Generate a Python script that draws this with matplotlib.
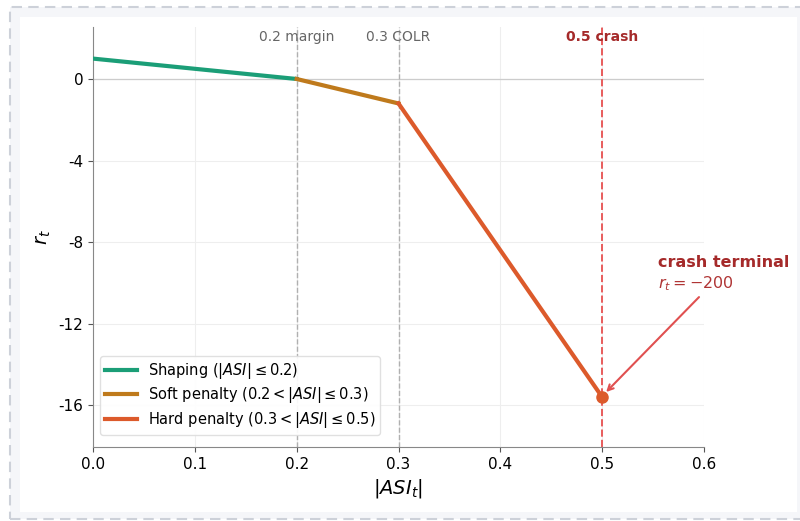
import matplotlib
matplotlib.use("Agg")
import matplotlib.pyplot as plt
from matplotlib.patches import Rectangle

# Data
shaping_x = [0.0, 0.2]
shaping_y = [1.0, 0.0]
soft_x = [0.2, 0.3]
soft_y = [0.0, -1.2]
hard_x = [0.3, 0.5]
hard_y = [-1.2, -15.6]
thresholds = [0.2, 0.3, 0.5]
threshold_labels = ["0.2 margin", "0.3 COLR", "0.5 crash"]
yticks = [0, -4, -8, -12, -16]
xticks = [0.0, 0.1, 0.2, 0.3, 0.4, 0.5, 0.6]

W, H = 800, 521
fig = plt.figure(figsize=(8, 5.21), dpi=100, facecolor="white")

# page decoration
fig.patches.append(Rectangle((10 / W, 1 - 519 / H), 800 / W, (519 - 7) / H,
                             transform=fig.transFigure, facecolor="#f5f6f9",
                             edgecolor="#cdd1d9", linestyle=(0, (5, 3)), linewidth=1.5, zorder=-10))
fig.patches.append(Rectangle((20 / W, 1 - 512 / H), (797 - 20) / W, (512 - 17) / H,
                             transform=fig.transFigure, facecolor="white",
                             edgecolor="none", zorder=-9))

ax = fig.add_axes([93 / W, 1 - 447 / H, (704 - 93) / W, (447 - 27) / H])
ax.set_facecolor("white")

ax.grid(True, color="#eeeeee", linewidth=0.8)
ax.set_axisbelow(True)
ax.axhline(0, color="#cccccc", linewidth=0.9, zorder=1)

c_shape = "#1b9e77"
c_soft = "#bf7a1c"
c_hard = "#dc5a2b"

ax.plot(shaping_x, shaping_y, color=c_shape, linewidth=3, label=r"Shaping ($|ASI| \leq 0.2$)", zorder=3)
ax.plot(soft_x, soft_y, color=c_soft, linewidth=3, label=r"Soft penalty ($0.2 < |ASI| \leq 0.3$)", zorder=3)
ax.plot(hard_x, hard_y, color=c_hard, linewidth=3, label=r"Hard penalty ($0.3 < |ASI| \leq 0.5$)", zorder=3)
ax.plot([hard_x[-1]], [hard_y[-1]], "o", color=c_hard, markersize=8, zorder=4)

ax.axvline(thresholds[0], color="#b0b0b0", linestyle="--", linewidth=1, zorder=2)
ax.axvline(thresholds[1], color="#b0b0b0", linestyle="--", linewidth=1, zorder=2)
ax.axvline(thresholds[2], color="#e85c5c", linestyle="--", linewidth=1.4, zorder=2)

ax.text(thresholds[0], 2.05, threshold_labels[0], ha="center", va="center", color="#666666", fontsize=10)
ax.text(thresholds[1], 2.05, threshold_labels[1], ha="center", va="center", color="#666666", fontsize=10)
ax.text(thresholds[2], 2.05, threshold_labels[2], ha="center", va="center", color="#a52a2a",
        fontsize=10, fontweight="bold")

ax.annotate("", xy=(hard_x[-1] + 0.002, hard_y[-1] + 0.15), xytext=(0.597, -10.6),
            arrowprops=dict(arrowstyle="->", color="#e05050", linewidth=1.5), zorder=5,
            annotation_clip=False)
ax.text(0.555, -9.0, "crash terminal", color="#a52a2a", fontsize=11.5, fontweight="bold",
        ha="left", va="center")
ax.text(0.555, -10.05, r"$r_t = -200$", color="#b03535", fontsize=11.5, ha="left", va="center")

ax.set_xlim(0, 0.6)
ax.set_ylim(-18.05, 2.55)
ax.set_xticks(xticks)
ax.set_xticklabels([f"{v:.1f}" for v in xticks])
ax.set_yticks(yticks)
ax.set_yticklabels([str(v) for v in yticks])
ax.tick_params(labelsize=11, color="#555555")

for s in ["top", "right"]:
    ax.spines[s].set_visible(False)
for s in ["left", "bottom"]:
    ax.spines[s].set_color("#888888")

ax.set_xlabel(r"$|ASI_t|$", fontsize=14)
ax.set_ylabel(r"$r_t$", fontsize=14)

ax.legend(loc="lower left", bbox_to_anchor=(0.0, 0.012), fontsize=10.5, framealpha=0.9,
          edgecolor="#dddddd", handlelength=2.2, labelspacing=0.33, borderpad=0.3)

fig.savefig("out.png", dpi=100, facecolor=fig.get_facecolor())
